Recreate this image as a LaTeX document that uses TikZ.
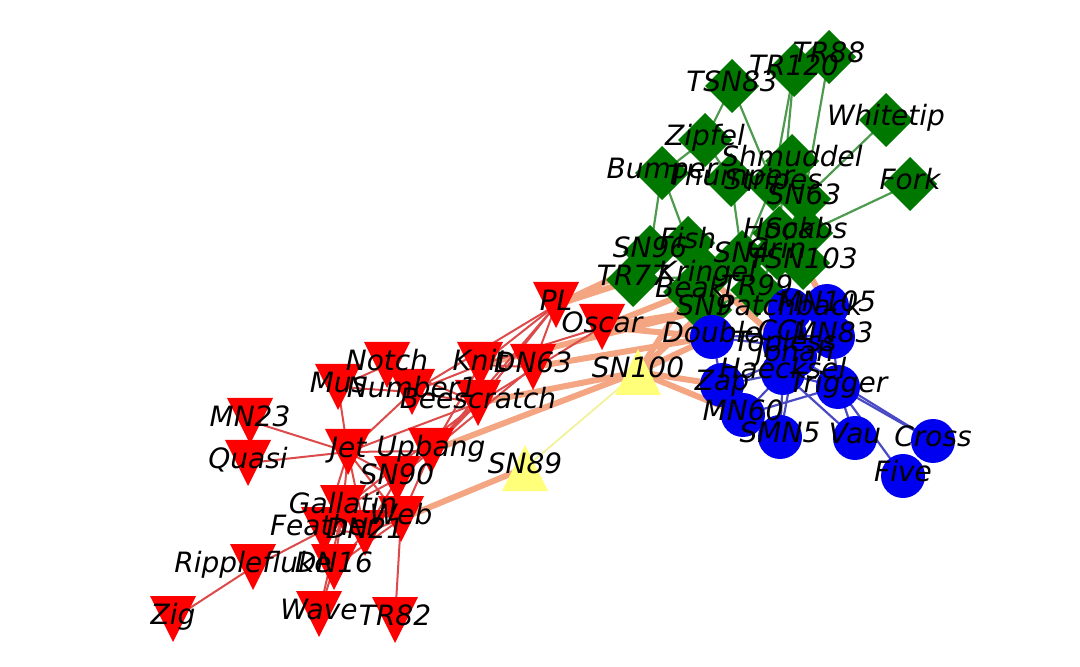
\documentclass[tikz,border=0pt]{standalone}
\usepackage{fontspec}
\setmainfont{DejaVu Sans}
\usepackage{tikz}
\definecolor{DolRed}{HTML}{FF0000}
\definecolor{DolGreen}{HTML}{007800}
\definecolor{DolBlue}{HTML}{0000F0}
\definecolor{DolYellow}{HTML}{FFFF7A}
\definecolor{RedLink}{HTML}{DC4A4A}
\definecolor{GreenLink}{HTML}{4E9A4E}
\definecolor{BlueLink}{HTML}{4A4AC4}
\definecolor{CrossLink}{HTML}{F4A582}
\definecolor{PaleLink}{HTML}{F2F29A}
\tikzset{
  redlink/.style={RedLink,line width=1pt},
  greenlink/.style={GreenLink,line width=1.1pt},
  bluelink/.style={BlueLink,line width=1.1pt},
  crosslink/.style={CrossLink,line width=3pt},
  palelink/.style={PaleLink,line width=0.9pt},
  dlabel/.style={font=\fontsize{14}{14}\selectfont\itshape,inner sep=0pt,
    text height=0.74em,text depth=0.22em}
}

\begin{document}
\begin{tikzpicture}[x=0.5pt,y=-0.5pt]
  \useasboundingbox (0,0) rectangle (1080,667);
  % positions of the dolphins
  \foreach \n/\x/\y in {tr88/829/57,tr120/794/70,tsn83/732/86,whitetip/886/120,
      zipfel/705/140,shmuddel/792/161,bumper/662/173,thumper/731/180,
      stripes/773/184,sn63/804/199,fork/910/184,hook/779/233,scabs/806/233,
      grin/777/253,sn4/742/257,tsn103/803/263,sn96/650/252,fish/688/243,
      tr77/633/280,kringel/707/276,beak/690/292,tr99/757/290,sn9/705/310}
    \coordinate (\n) at (\x,\y);
  \foreach \n/\x/\y in {patchback/790/310,mn105/827/306,ccl/785/335,
      mn83/833/337,double/712/337,topless/785/346,jonah/795/356,
      haecksel/783/373,zap/722/385,trigger/838/387,mn60/743/415,
      smn5/780/437,vau/855/438,cross/933/441,five/903/476}
    \coordinate (\n) at (\x,\y);
  \foreach \n/\x/\y in {pl/556/305,oscar/602/327,knit/480/365,dn63/533/367,
      notch/387/365,mus/338/387,number1/412/392,beescratch/478/403,
      mn23/250/421,quasi/248/463,jet/348/452,upbang/431/451,sn90/397/479,
      gallatin/343/508,web/401/519,dn21/365/533,feather/324/530,
      dn16/334/567,ripplefluke/253/567,zig/173/619,wave/319/614,tr82/395/620}
    \coordinate (\n) at (\x,\y);
  \coordinate (sn100) at (638,372);
  \coordinate (sn89) at (525,468);

  % links between the groups
  \foreach \a/\b in {sn89/web,beescratch/sn100,dn63/double,knit/sn9,
      pl/tr77,pl/fish,oscar/sn9,oscar/beak,oscar/double,upbang/sn100,
      sn100/zap,sn100/mn60,sn100/double,sn100/beak,sn100/sn9,
      sn9/double,beak/patchback,kringel/topless,tr99/jonah,tsn103/mn105,
      sn4/patchback}
    \draw[crosslink] (\a) -- (\b);
  \draw[palelink] (sn89) -- (sn100);

  % links inside the groups
  \foreach \a/\b in {zig/ripplefluke,ripplefluke/feather,wave/dn16,
      wave/gallatin,tr82/web,dn16/gallatin,dn16/feather,dn16/web,dn16/dn21,
      feather/gallatin,feather/jet,feather/dn21,gallatin/jet,gallatin/web,
      gallatin/sn90,dn21/jet,dn21/web,dn21/sn90,web/sn90,web/jet,sn90/jet,
      sn90/upbang,sn90/beescratch,jet/mn23,jet/quasi,jet/mus,jet/number1,
      jet/beescratch,jet/upbang,mus/notch,mus/number1,notch/beescratch,
      number1/beescratch,number1/knit,upbang/beescratch,upbang/knit,
      upbang/dn63,upbang/pl,beescratch/pl,knit/pl,dn63/pl,knit/oscar,
      beescratch/oscar,dn63/knit,gallatin/beescratch,web/upbang,pl/number1}
    \draw[redlink] (\a) -- (\b);
  \foreach \a/\b in {tr88/sn63,tr120/stripes,tsn83/stripes,tsn83/zipfel,
      whitetip/sn63,fork/scabs,bumper/sn96,bumper/fish,bumper/zipfel,
      zipfel/thumper,thumper/sn4,stripes/sn4,shmuddel/sn63,sn63/grin,
      sn63/tsn103,hook/scabs,hook/sn4,scabs/tsn103,grin/tsn103,grin/tr99,
      sn4/tr99,sn4/kringel,sn96/tr77,sn96/fish,fish/kringel,kringel/beak,
      beak/sn9,kringel/sn9,tr77/kringel,tr99/sn9,tr120/grin}
    \draw[greenlink] (\a) -- (\b);
  \foreach \a/\b in {cross/trigger,five/trigger,vau/trigger,vau/haecksel,
      smn5/jonah,smn5/haecksel,mn60/trigger,mn60/zap,mn60/haecksel,
      zap/haecksel,zap/double,zap/jonah,double/ccl,double/topless,ccl/mn83,
      ccl/jonah,mn83/mn105,mn83/trigger,jonah/mn83,jonah/topless,
      topless/haecksel,haecksel/trigger,patchback/mn105,patchback/topless,
      cross/jonah}
    \draw[bluelink] (\a) -- (\b);

  % markers
  \foreach \n in {tr88,tr120,tsn83,whitetip,zipfel,shmuddel,bumper,thumper,
      stripes,sn63,fork,hook,scabs,grin,sn4,tsn103,sn96,fish,tr77,kringel,
      beak,tr99,sn9}
    \fill[DolGreen] (\n) ++(-27,0) -- ++(27,-27) -- ++(27,27) -- ++(-27,27) -- cycle;
  \foreach \n in {patchback,mn105,ccl,mn83,double,topless,jonah,haecksel,
      zap,trigger,mn60,smn5,vau,cross,five}
    \fill[DolBlue] (\n) circle (11pt);
  \foreach \n in {pl,oscar,knit,dn63,notch,mus,number1,beescratch,mn23,
      quasi,jet,upbang,sn90,gallatin,web,dn21,feather,dn16,ripplefluke,zig,
      wave,tr82}
    \fill[DolRed] (\n) ++(-23,-23) -- ++(46,0) -- ++(-23,46) -- cycle;
  \foreach \n in {sn100,sn89}
    \fill[DolYellow] (\n) ++(-23,23) -- ++(46,0) -- ++(-23,-46) -- cycle;

  % names
  \foreach \n/\t in {tr88/TR88,tr120/TR120,tsn83/TSN83,whitetip/Whitetip,
      zipfel/Zipfel,shmuddel/Shmuddel,bumper/Bumper,thumper/Thumper,
      stripes/Stripes,sn63/SN63,fork/Fork,hook/Hook,scabs/Scabs,grin/Grin,
      sn4/SN4,tsn103/TSN103,sn96/SN96,fish/Fish,tr77/TR77,kringel/Kringel,
      beak/Beak,tr99/TR99,sn9/SN9,patchback/Patchback,mn105/MN105,ccl/CCL,
      mn83/MN83,double/Double,topless/Topless,jonah/Jonah,haecksel/Haecksel,
      zap/Zap,trigger/Trigger,mn60/MN60,smn5/SMN5,vau/Vau,cross/Cross,
      five/Five,pl/PL,oscar/Oscar,knit/Knit,dn63/DN63,notch/Notch,mus/Mus,
      number1/Number1,beescratch/Beescratch,mn23/MN23,quasi/Quasi,jet/Jet,
      upbang/Upbang,sn90/SN90,gallatin/Gallatin,web/Web,dn21/DN21,
      feather/Feather,dn16/DN16,ripplefluke/Ripplefluke,zig/Zig,wave/Wave,
      tr82/TR82,sn100/SN100,sn89/SN89}
    \node[dlabel] (\n-l) at (\n) {\t};
\end{tikzpicture}
\end{document}
